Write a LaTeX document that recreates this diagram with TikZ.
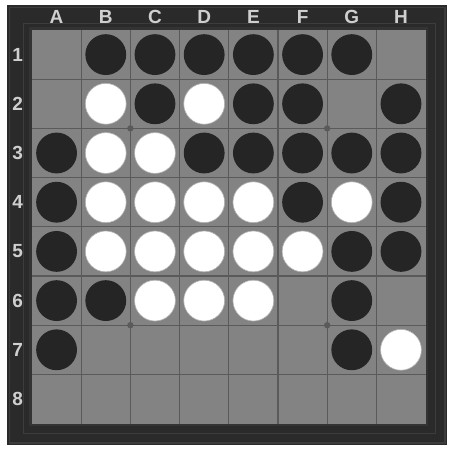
\documentclass[tikz,border=0pt]{standalone}
\usepackage{fontspec}
\setsansfont{Liberation Sans}
\usepackage{tikz}

\definecolor{frame}{HTML}{2A2A2A}
\definecolor{ridge}{HTML}{3C3C3C}
\definecolor{felt}{HTML}{838383}
\definecolor{gridline}{HTML}{5A5A5A}
\definecolor{stoneblack}{HTML}{252525}
\definecolor{label}{HTML}{CFCFCF}

\begin{document}
\begin{tikzpicture}[x=24.6pt, y=-24.6pt,
  every node/.style={font=\sffamily\bfseries\fontsize{9.5}{10}\selectfont, text=label},
  blackstone/.style={fill=stoneblack},
  whitestone/.style={fill=white, draw=gray!60, line width=0.3pt}]

\useasboundingbox[fill=white] (-0.650,-0.610) rectangle (8.537,8.496);

% Frame
\fill[frame] (-0.508,-0.508) rectangle (8.44,8.44);
\draw[ridge, line width=0.8pt] (-0.46,-0.46) rectangle (8.39,8.39);
\draw[ridge, line width=0.5pt] (-0.17,-0.14) rectangle (8.21,8.2);
\draw[black!80, line width=1.2pt] (-0.03,-0.03) rectangle (8.03,8.03);

% Board
\fill[felt] (0,0) rectangle (8,8);
\foreach \i in {1,...,7} {
  \draw[gridline, line width=0.6pt] (\i,0) -- (\i,8);
  \draw[gridline, line width=0.6pt] (0,\i) -- (8,\i);
}
\foreach \p in {(2,2),(6,2),(2,6),(6,6)}
  \fill[gridline] \p circle (0.065);

% Labels
\foreach \l [count=\i] in {A,B,C,D,E,F,G,H}
  \node (col\l) at (\i-0.5,-0.27) {\l};
\foreach \i in {1,...,8}
  \node (row\i) at (-0.29,\i-0.5) {\i};

% Stones (column, row)
\foreach \c/\r in {2/1,3/1,4/1,5/1,6/1,7/1,
                   3/2,5/2,6/2,8/2,
                   1/3,4/3,5/3,6/3,7/3,8/3,
                   1/4,6/4,8/4,
                   1/5,7/5,8/5,
                   1/6,2/6,7/6,
                   1/7,7/7}
  \fill[blackstone] (\c-0.5,\r-0.5) circle (0.415);
\foreach \c/\r in {2/2,4/2,
                   2/3,3/3,
                   2/4,3/4,4/4,5/4,7/4,
                   2/5,3/5,4/5,5/5,6/5,
                   3/6,4/6,5/6,
                   8/7}
  \filldraw[whitestone] (\c-0.5,\r-0.5) circle (0.415);

\end{tikzpicture}
\end{document}
